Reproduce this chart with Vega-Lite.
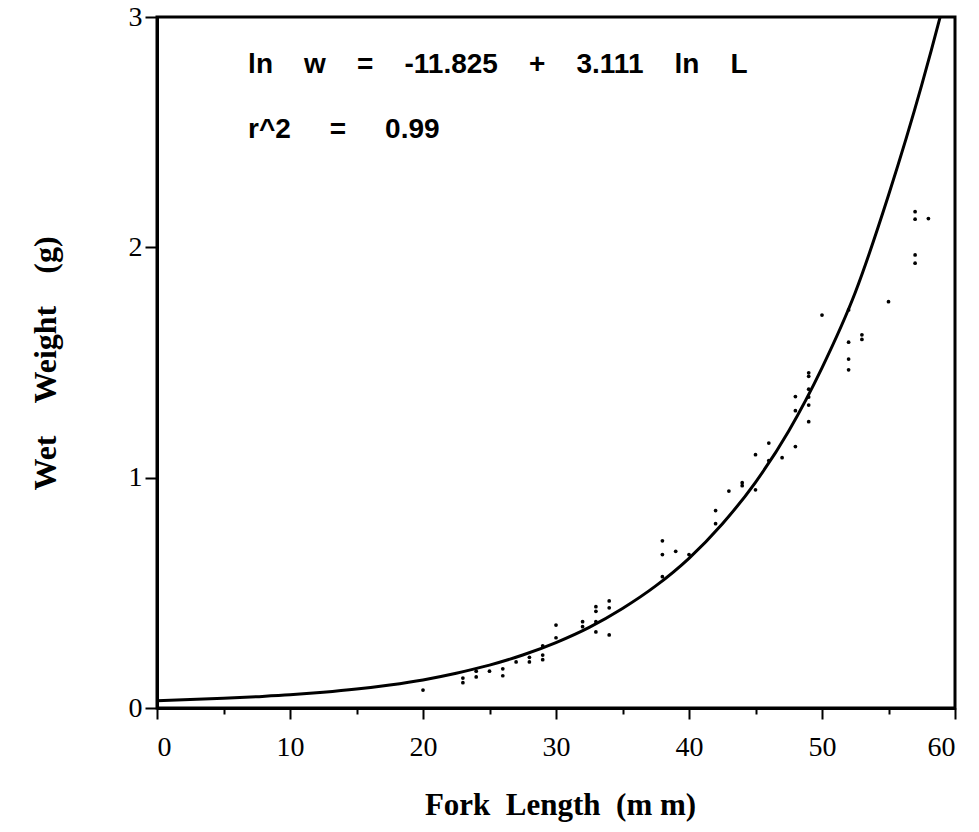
{
  "$schema": "https://vega.github.io/schema/vega-lite/v6.json",
  "autosize": "none",
  "width": 798,
  "height": 691,
  "padding": {"left": 157, "top": 17, "right": 24, "bottom": 124},
  "background": "white",
  "config": {
    "view": {"stroke": "black", "strokeWidth": 3},
    "axis": {
      "domainColor": "black", "domainWidth": 3, "tickColor": "black", "tickWidth": 2,
      "labelFont": "Liberation Serif", "labelFontSize": 28, "labelColor": "black",
      "titleFont": "Liberation Serif", "titleFontSize": 31, "titleFontWeight": "bold", "titleColor": "black",
      "grid": false
    }
  },
  "datasets": {
    "curve": [
      {"L": 0, "W": 0.032}, {"L": 2.5, "W": 0.0365}, {"L": 5, "W": 0.042}, {"L": 7.5, "W": 0.049},
      {"L": 10, "W": 0.057}, {"L": 12.5, "W": 0.068}, {"L": 15, "W": 0.082}, {"L": 17.5, "W": 0.1},
      {"L": 20, "W": 0.122}, {"L": 22.5, "W": 0.151}, {"L": 25, "W": 0.186}, {"L": 27.5, "W": 0.23},
      {"L": 30, "W": 0.284}, {"L": 32.5, "W": 0.35}, {"L": 35, "W": 0.432}, {"L": 37.5, "W": 0.53},
      {"L": 40, "W": 0.65}, {"L": 42.5, "W": 0.799}, {"L": 45, "W": 0.98}, {"L": 47.5, "W": 1.203},
      {"L": 50, "W": 1.477}, {"L": 52.5, "W": 1.804}, {"L": 55, "W": 2.226}, {"L": 57.5, "W": 2.705},
      {"L": 58.9, "W": 3.004}, {"L": 59.5, "W": 3.14}
    ],
    "obs": [
      {"L": 20, "W": 0.078},
      {"L": 23, "W": 0.11}, {"L": 23, "W": 0.13},
      {"L": 24, "W": 0.135}, {"L": 24, "W": 0.16},
      {"L": 25, "W": 0.16},
      {"L": 26, "W": 0.14}, {"L": 26, "W": 0.17},
      {"L": 27, "W": 0.2},
      {"L": 28, "W": 0.2}, {"L": 28, "W": 0.22},
      {"L": 29, "W": 0.27}, {"L": 29, "W": 0.23}, {"L": 29, "W": 0.21},
      {"L": 30, "W": 0.36}, {"L": 30, "W": 0.305},
      {"L": 32, "W": 0.375}, {"L": 32, "W": 0.353},
      {"L": 33, "W": 0.44}, {"L": 33, "W": 0.42}, {"L": 33, "W": 0.375}, {"L": 33, "W": 0.33},
      {"L": 34, "W": 0.465}, {"L": 34, "W": 0.435}, {"L": 34, "W": 0.317},
      {"L": 38, "W": 0.726}, {"L": 38, "W": 0.666}, {"L": 38, "W": 0.57},
      {"L": 39, "W": 0.68},
      {"L": 40, "W": 0.666},
      {"L": 42, "W": 0.857}, {"L": 42, "W": 0.8},
      {"L": 43, "W": 0.942},
      {"L": 44, "W": 0.965}, {"L": 44, "W": 0.978},
      {"L": 45, "W": 0.947}, {"L": 45, "W": 1.1},
      {"L": 46, "W": 1.15}, {"L": 46, "W": 1.074},
      {"L": 47, "W": 1.087},
      {"L": 48, "W": 1.352}, {"L": 48, "W": 1.291}, {"L": 48, "W": 1.135},
      {"L": 49, "W": 1.455}, {"L": 49, "W": 1.44}, {"L": 49, "W": 1.384}, {"L": 49, "W": 1.35}, {"L": 49, "W": 1.315}, {"L": 49, "W": 1.243},
      {"L": 50, "W": 1.706},
      {"L": 52, "W": 1.728}, {"L": 52, "W": 1.588}, {"L": 52, "W": 1.515}, {"L": 52, "W": 1.468},
      {"L": 53, "W": 1.6}, {"L": 53, "W": 1.62},
      {"L": 55, "W": 1.764},
      {"L": 57, "W": 2.155}, {"L": 57, "W": 2.122}, {"L": 57, "W": 1.967}, {"L": 57, "W": 1.931},
      {"L": 58, "W": 2.125}
    ],
    "notes": [
      {"L": 6.85, "W": 2.79, "label": "ln\u00a0\u00a0\u00a0\u00a0w\u00a0\u00a0\u00a0\u00a0=\u00a0\u00a0\u00a0\u00a0-11.825\u00a0\u00a0\u00a0\u00a0+\u00a0\u00a0\u00a0\u00a03.111\u00a0\u00a0\u00a0\u00a0ln\u00a0\u00a0\u00a0\u00a0L"},
      {"L": 6.85, "W": 2.51, "label": "r^2\u00a0\u00a0\u00a0\u00a0\u00a0=\u00a0\u00a0\u00a0\u00a0\u00a00.99"}
    ]
  },
  "layer": [
    {
      "data": {"name": "curve"},
      "mark": {"type": "line", "color": "black", "strokeWidth": 3, "interpolate": "monotone", "clip": true},
      "encoding": {
        "x": {
          "field": "L", "type": "quantitative",
          "scale": {"domain": [0, 60], "nice": false, "zero": false},
          "axis": {
            "title": "Fork\u00a0\u00a0Length\u00a0\u00a0(m\u00a0m)",
            "values": [0, 5, 10, 15, 20, 25, 30, 35, 40, 45, 50, 55, 60],
            "labelExpr": "datum.value % 10 === 0 ? datum.label : ''",
            "tickSize": {"condition": {"test": "datum.value % 10 === 0", "value": 11}, "value": 6},
            "labelPadding": 14,
            "titleX": 403, "titleY": 97, "titleAlign": "center", "titleBaseline": "middle"
          }
        },
        "y": {
          "field": "W", "type": "quantitative",
          "scale": {"domain": [0, 3], "nice": false, "zero": false},
          "axis": {
            "title": "Wet\u00a0\u00a0\u00a0\u00a0Weight\u00a0\u00a0\u00a0\u00a0(g)",
            "titleFontSize": 32,
            "values": [0, 0.5, 1, 1.5, 2, 2.5, 3],
            "format": "d",
            "labelExpr": "datum.value % 1 === 0 ? datum.label : ''",
            "tickSize": {"condition": {"test": "datum.value % 1 === 0", "value": 12}, "value": 6},
            "labelPadding": 3,
            "titleX": -112, "titleY": 346, "titleAngle": -90, "titleAlign": "center", "titleBaseline": "middle"
          }
        }
      }
    },
    {
      "data": {"name": "obs"},
      "mark": {"type": "circle", "color": "black", "opacity": 1, "size": 14},
      "encoding": {
        "x": {"field": "L", "type": "quantitative"},
        "y": {"field": "W", "type": "quantitative"}
      }
    },
    {
      "data": {"name": "notes"},
      "mark": {"type": "text", "align": "left", "baseline": "middle", "font": "Liberation Sans", "fontWeight": "bold", "fontSize": 28, "color": "black"},
      "encoding": {
        "x": {"field": "L", "type": "quantitative"},
        "y": {"field": "W", "type": "quantitative"},
        "text": {"field": "label"}
      }
    }
  ]
}
